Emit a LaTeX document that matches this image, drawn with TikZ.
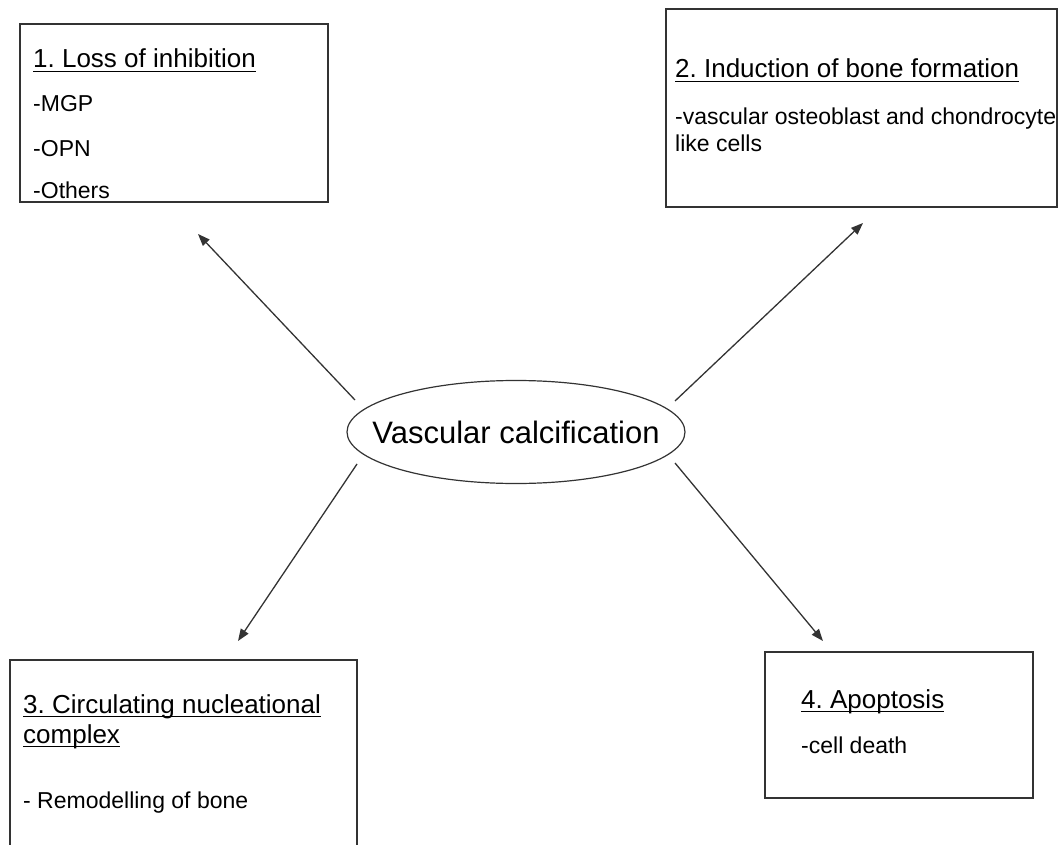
\documentclass[tikz,border=0pt]{standalone}
\usepackage{fontspec}
\setmainfont{Liberation Sans}
\frenchspacing
\usetikzlibrary{shapes.geometric,arrows.meta}
\definecolor{edge}{HTML}{333333}
\tikzset{
  boxframe/.style={draw=edge, line width=1.3pt},
  ttl/.style={anchor=base west, inner sep=0pt, font=\fontsize{26}{30}\selectfont},
  body/.style={anchor=base west, inner sep=0pt, font=\fontsize{23}{27}\selectfont},
  uline/.style={draw=black, line width=1.1pt},
  conn/.style={draw=edge, line width=1.3pt, -{Triangle[length=12pt,width=9pt]}}
}
\begin{document}
\begin{tikzpicture}[x=1pt,y=-1pt]
\useasboundingbox (0,0) rectangle (1058,845);
% boxes
\node[boxframe, minimum width=308pt, minimum height=178pt, inner sep=0pt] (b1) at (174,113) {};
\node[boxframe, minimum width=391pt, minimum height=198pt, inner sep=0pt] (b2) at (861.5,108) {};
\draw[boxframe] (10,850) -- (10,660) -- (357,660) -- (357,850);
\coordinate (b3) at (183,660);
\node[boxframe, minimum width=268pt, minimum height=146pt, inner sep=0pt] (b4) at (899,725) {};
% central ellipse
\node[ellipse, draw=edge, line width=1.2pt, minimum width=338pt, minimum height=103pt, inner sep=0pt] (vc) at (516,432) {};
\node[inner sep=0pt, font=\fontsize{31}{36}\selectfont] (vct) at (vc.center) {Vascular calcification};
% texts box 1
\node[ttl] (t1) at (33,68) {1. Loss of inhibition};
\draw[uline] ([yshift=-3.5pt]t1.base west) -- ([yshift=-3.5pt]t1.base east);
\node[body] (m1) at (33,112) {-MGP};
\node[body] (m2) at (33,157) {-OPN};
\node[body] (m3) at (33,199) {-Others};
% texts box 2
\node[ttl] (t2) at (675,78) {2. Induction of bone formation};
\draw[uline] ([yshift=-3.5pt]t2.base west) -- ([yshift=-3.5pt]t2.base east);
\node[body] (n1) at (675,125) {-vascular osteoblast and chondrocyte};
\node[body] (n2) at (675,152) {like cells};
% texts box 3
\node[ttl] (t3a) at (23,713) {3. Circulating nucleational};
\draw[uline] ([yshift=-3.5pt]t3a.base west) -- ([yshift=-3.5pt]t3a.base east);
\node[ttl] (t3b) at (23,743) {complex};
\draw[uline] ([yshift=-3.5pt]t3b.base west) -- ([yshift=-3.5pt]t3b.base east);
\node[body] (r1) at (23,808) {- Remodelling of bone};
% texts box 4
\node[ttl] (t4) at (801,708) {4. Apoptosis};
\draw[uline] ([yshift=-3.5pt]t4.base west) -- ([yshift=-3.5pt]t4.base east);
\node[body] (c1) at (801,753) {-cell death};
% connectors
\coordinate (s1) at (355,400);
\coordinate (e1) at (198,234);
\coordinate (s2) at (675,401);
\coordinate (e2) at (863,223);
\coordinate (s3) at (357,464);
\coordinate (e3) at (238,641);
\coordinate (s4) at (675,463);
\coordinate (e4) at (823,641);
\draw[conn] (s1) -- (e1);
\draw[conn] (s2) -- (e2);
\draw[conn] (s3) -- (e3);
\draw[conn] (s4) -- (e4);
\end{tikzpicture}
\end{document}
